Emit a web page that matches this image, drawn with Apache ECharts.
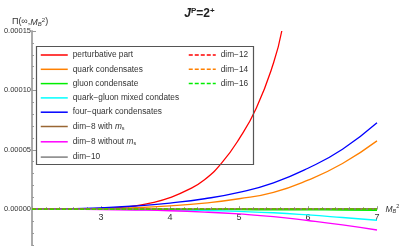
<!DOCTYPE html>
<html><head><meta charset="utf-8">
<script src="https://cdn.jsdelivr.net/npm/echarts@6/dist/echarts.min.js"></script>
<style>html,body{margin:0;padding:0;background:#fff}#c{width:399px;height:246px}</style>
</head><body><div id="c"></div>
<script>
// x values (M_B^2)
var xGrid = [2, 2.5, 3, 3.5, 4, 4.5, 5, 5.5, 6, 6.5, 7];
var xRed = [2, 2.25, 2.5, 2.75, 3, 3.25, 3.5, 3.75, 4, 4.25, 4.5, 4.75, 5, 5.25, 5.5, 5.62];
// series values
var perturbative = [0, 0.00000002, 0.0000001, 0.0000003, 0.0000007, 0.0000014, 0.0000028, 0.0000056, 0.0000098, 0.000016, 0.0000248, 0.000039, 0.000059, 0.000085, 0.000123, 0.00015];
var quarkCond = [0, 0.0000001, 0.0000004, 0.0000012, 0.0000028, 0.0000052, 0.0000088, 0.0000142, 0.0000245, 0.0000385, 0.0000575];
var gluonCond = [0, 0, -0.0000001, -0.0000001, -0.0000002, -0.0000003, -0.0000004, -0.0000005, -0.0000006, -0.0000007, -0.0000009];
var mixedCond = [0, 0, -0.0000001, -0.0000003, -0.0000006, -0.0000011, -0.0000019, -0.000003, -0.0000048, -0.000007, -0.0000093];
var fourQuark = [0, 0.0000003, 0.0000012, 0.0000027, 0.0000052, 0.0000088, 0.0000142, 0.0000222, 0.0000345, 0.0000505, 0.0000727];
var dim8ms = [0, 0, 0, 0.0000001, 0.0000001, 0.0000001, 0.0000002, 0.0000002, 0.0000003, 0.0000003, 0.0000004];
var dim8noms = [0, -0.0000001, -0.0000003, -0.0000007, -0.0000013, -0.0000024, -0.000004, -0.0000062, -0.0000095, -0.0000132, -0.0000175];
var dim10 = [0, 0, 0, 0, 0, 0, 0.0000001, 0.0000001, 0.0000001, 0.0000002, 0.0000002];
var dim12 = [0, 0, 0, 0, 0, 0, 0, 0, 0, 0, 0];
var dim14 = [0, 0, 0, 0, 0, 0, 0, 0, 0, 0, 0];
var dim16 = [0, 0, 0, 0, 0, 0, 0, 0, 0, 0, 0];
// axis ticks
var yTicks = [-0.00005, 0, 0.00005, 0.0001, 0.00015];
var xTicks = [2, 3, 4, 5, 6, 7];

var names1 = ['perturbative part','quark condensates','gluon condensate','quark\u2212gluon mixed condates','four\u2212quark condensates','dim\u22128 with ms','dim\u22128 without ms','dim\u221210'];
var names2 = ['dim\u221212','dim\u221214','dim\u221216'];

var gridTop = 31, gridHeight = 237.6;
var yMin = yTicks[0], yMax = yTicks[yTicks.length - 1];

function pair(xs, ys){ return ys.map(function(v,i){return [xs[i], v];}); }
function mk(name, xs, ys, color, dashed){
  return {name:name, type:'line', data:pair(xs,ys), smooth:true, symbol:'none', showSymbol:false,
    lineStyle:{color:color, width:1.3, type: dashed ? [4,2] : 'solid'}, itemStyle:{color:color}, clip:true};
}
var series = [
  mk(names1[0], xRed, perturbative, '#ff0000'),
  mk(names1[1], xGrid, quarkCond, '#ff8000'),
  mk(names1[2], xGrid, gluonCond, '#00ee00'),
  mk(names1[3], xGrid, mixedCond, '#00ffff'),
  mk(names1[4], xGrid, fourQuark, '#0000ff'),
  mk(names1[5], xGrid, dim8ms, '#996633'),
  mk(names1[6], xGrid, dim8noms, '#ff00ff'),
  mk(names1[7], xGrid, dim10, '#808080'),
  mk(names2[0], xGrid, dim12, '#ff0000', true),
  mk(names2[1], xGrid, dim14, '#ff8000', true),
  mk(names2[2], xGrid, dim16, '#00ee00', true)
];
var LF = 8.3;
var legRich = {i:{fontStyle:'italic', fontSize:LF, color:'#333', fontFamily:'Liberation Sans'}, s:{fontSize:5.5, color:'#333', verticalAlign:'bottom', padding:[4,0,0,0], fontFamily:'Liberation Sans'}};
function legFmt(n){
  if (n.indexOf(' ms') > 0) return n.replace(' ms',' ') + '{i|m}{s|s}';
  return n;
}
var legCommon = {orient:'vertical', top:51, padding:0, itemWidth:27, itemHeight:8, itemGap:6.3,
  itemStyle:{opacity:0}, lineStyle:{width:1.5}};
// offset to place x axis at value 0 (from grid bottom)
var zeroOffset = -gridHeight * (0 - yMin) / (yMax - yMin);
var chart = echarts.init(document.getElementById('c'), null, {renderer:'canvas'});
chart.setOption({
  animation:false,
  title:{text:'{i|J}{sp|P}{n|=2}{sp|+}', left:'center', top:2,
    textStyle:{rich:{i:{fontStyle:'italic', fontSize:12, color:'#222', fontFamily:'Liberation Sans'}, n:{fontSize:12, color:'#222', fontFamily:'Liberation Sans'}, sp:{fontSize:8, color:'#222', verticalAlign:'bottom', padding:[0,0,6,0], fontFamily:'Liberation Sans'}}}},
  grid:{left:32, right:22, top:gridTop, height:gridHeight, containLabel:false, outerBoundsMode:'none'},
  xAxis:{type:'value', min:2, max:7, interval:1, position:'bottom', offset:zeroOffset,
    name:'{i|M}{s|B}{sp|2}', nameLocation:'end', nameGap:1,
    nameTextStyle:{align:'left', rich:{i:{fontStyle:'italic', fontSize:8.5, color:'#333', fontFamily:'Liberation Sans'}, s:{fontStyle:'italic', fontSize:5.5, color:'#333', padding:[5,0,0,0], fontFamily:'Liberation Sans'}, sp:{fontSize:5.5, color:'#333', padding:[0,0,5,0], fontFamily:'Liberation Sans'}}},
    axisLine:{onZero:false, lineStyle:{color:'#999', width:1}},
    axisTick:{show:true, inside:true, length:3, lineStyle:{color:'#999'}},
    minorTick:{show:true, splitNumber:5, length:2, lineStyle:{color:'#999'}},
    splitLine:{show:false},
    axisLabel:{showMinLabel:false, margin:4, fontSize:9, color:'#333', fontFamily:'Liberation Sans',
      formatter:function(v){ return xTicks.indexOf(v) >= 0 ? String(v) : ''; }}
  },
  yAxis:{type:'value', min:yMin, max:yMax, interval:0.00005,
    name:'{n|\u03a0(\u221e,}{i|M}{s|B}{sp|2}{n|)}', nameLocation:'end', nameGap:4,
    nameTextStyle:{align:'center', padding:[0,4,0,0], rich:{n:{fontSize:9, color:'#333', fontFamily:'Liberation Sans'}, i:{fontStyle:'italic', fontSize:9, color:'#333', fontFamily:'Liberation Sans'}, s:{fontStyle:'italic', fontSize:6, color:'#333', padding:[4,0,0,0], fontFamily:'Liberation Sans'}, sp:{fontSize:6, color:'#333', padding:[0,0,4,0], fontFamily:'Liberation Sans'}}},
    axisLine:{show:true, onZero:false, lineStyle:{color:'#aaa', width:2}},
    axisTick:{show:true, inside:true, length:4, lineStyle:{color:'#999'}},
    minorTick:{show:true, splitNumber:5, length:2, lineStyle:{color:'#999'}},
    splitLine:{show:false},
    axisLabel:{margin:1, fontSize:7.5, color:'#333', fontFamily:'Liberation Sans',
      formatter:function(v){ var m = yTicks.filter(function(t){return Math.abs(t-v)<1e-12;}); return m.length ? v.toFixed(5) : ''; }}
  },
  legend:[
    Object.assign({data:names1, left:40, formatter:legFmt, textStyle:{fontSize:LF, color:'#333', fontFamily:'Liberation Sans', rich:legRich}}, legCommon),
    Object.assign({data:names2, left:188, textStyle:{fontSize:LF, color:'#333', fontFamily:'Liberation Sans'}}, legCommon)
  ],
  graphic:[{type:'rect', shape:{x:36.5, y:46.5, width:217, height:118}, style:{fill:'none', stroke:'#555', lineWidth:1.2}, z:10}],
  series:series
});
</script>
</body></html>
